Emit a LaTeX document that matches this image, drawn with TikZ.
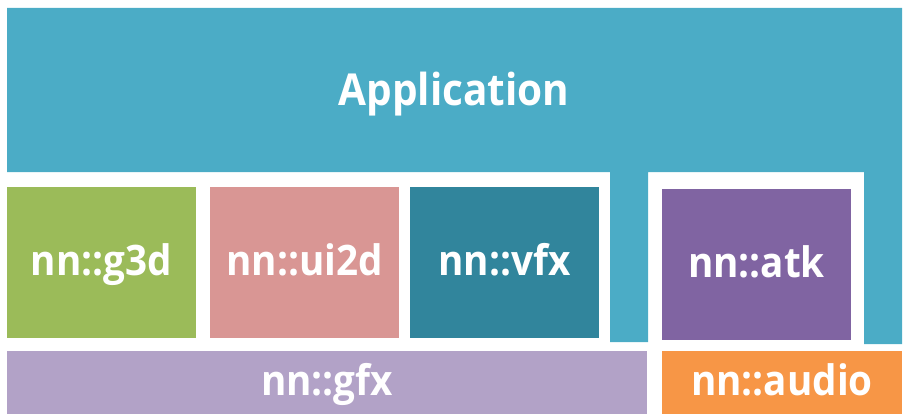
\documentclass[tikz,border=0pt]{standalone}
\usepackage{fontspec}
\setmainfont{Open Sans}[FakeStretch=0.92]
\usepackage{tikz}
\usetikzlibrary{positioning}
\definecolor{appblue}{HTML}{4BACC6}
\definecolor{g3dgreen}{HTML}{9BBB59}
\definecolor{uipink}{HTML}{D99694}
\definecolor{vfxteal}{HTML}{31859C}
\definecolor{atkpurple}{HTML}{8064A2}
\definecolor{gfxlilac}{HTML}{B2A2C7}
\definecolor{audioorange}{HTML}{F79646}
\tikzstyle{label}=[text=white,font=\bfseries\fontsize{42}{42}\selectfont]
\tikzstyle{module}=[label,rectangle,inner sep=0pt,outer sep=0pt,text height=25pt,text depth=0pt,minimum width=189pt,minimum height=151pt]
\tikzstyle{layer}+=[module,minimum height=63pt]

\begin{document}
\begin{tikzpicture}[x=1pt,y=-1pt]
    \useasboundingbox (0,0) rectangle (907,417);
    \fill[appblue] (7,8) -- (902,8) -- (902,344) -- (864,344) -- (864,172) -- (648,172)
      -- (648,342) -- (610,342) -- (610,172) -- (7,172) -- cycle;
    \node[label,anchor=base,font=\bfseries\fontsize{44}{44}\selectfont] (app) at (454,106) {Application};
    \node[module,fill=g3dgreen] (g3d) at (101.5,262.5) {nn::g3d};
    \node[module,fill=uipink] (ui2d) at (304.5,262.5) {nn::ui2d};
    \node[module,fill=vfxteal] (vfx) at (504.5,262.5) {nn::vfx};
    \node[module,fill=atkpurple] (atk) at (756.5,264.5) {nn::atk};
    \node[layer,fill=gfxlilac,minimum width=640pt] (gfx) at (327,382.5) {nn::gfx};
    \node[layer,fill=audioorange,minimum width=240pt] (audio) at (782,382.5) {nn::audio};
  \end{tikzpicture}
\end{document}
